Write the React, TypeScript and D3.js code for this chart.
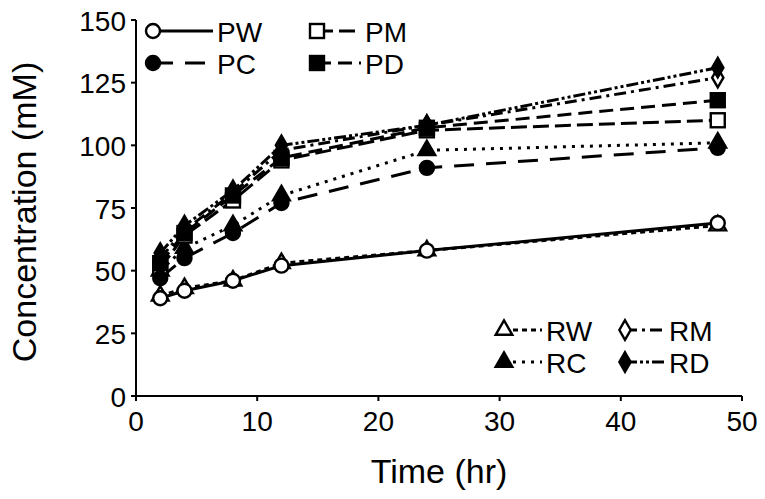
import React from "react";
import * as d3 from "d3";

const times = [2, 4, 8, 12, 24, 48];
const PW = [39, 42, 46, 52, 58, 69];
const PM = [51, 64, 78, 94, 106, 110];
const PC = [47, 55, 65, 77, 91, 99];
const PD = [53, 65, 80, 95, 107, 118];
const RW = [40, 43, 46, 53, 58, 68];
const RM = [55, 66, 81, 98, 108, 127];
const RC = [50, 59, 68, 80, 98, 101];
const RD = [57, 68, 82, 100, 108, 131];
const xTicks = [0, 10, 20, 30, 40, 50];
const yTicks = [0, 25, 50, 75, 100, 125, 150];

type S = { name: string; values: number[]; shape: string; filled: boolean; dash: string };
const series: S[] = [
  { name: "PW", values: PW, shape: "circle", filled: false, dash: "" },
  { name: "PM", values: PM, shape: "square", filled: false, dash: "16,6" },
  { name: "PC", values: PC, shape: "circle", filled: true, dash: "20,12" },
  { name: "PD", values: PD, shape: "square", filled: true, dash: "14,7" },
  { name: "RW", values: RW, shape: "triangle", filled: false, dash: "5,4" },
  { name: "RM", values: RM, shape: "diamond", filled: false, dash: "12,5,3,5" },
  { name: "RC", values: RC, shape: "triangle", filled: true, dash: "3,6" },
  { name: "RD", values: RD, shape: "diamond", filled: true, dash: "12,3,3,3,3,3" },
];

const W = 765, H = 499;
const x = d3.scaleLinear().domain([0, 50]).range([136, 742]);
const y = d3.scaleLinear().domain([0, 150]).range([396, 20]);
const FONT = "'Liberation Sans', Arial, sans-serif";

function Marker({ shape, filled, cx, cy }: { shape: string; filled: boolean; cx: number; cy: number }) {
  const fill = filled ? "#000" : "#fff";
  const st = { fill, stroke: "#000", strokeWidth: 2.4 };
  if (shape === "circle") return <circle cx={cx} cy={cy} r={7} {...st} />;
  if (shape === "square") return <rect x={cx - 7} y={cy - 7} width={14} height={14} {...st} />;
  if (shape === "triangle") {
    const p = d3.symbol().type(d3.symbolTriangle).size(120)();
    return <path d={p || ""} transform={`translate(${cx},${cy})`} {...st} />;
  }
  const p = d3.symbol().type(d3.symbolDiamond).size(110)();
  return <path d={p || ""} transform={`translate(${cx},${cy})`} {...st} />;
}

function LegendItem({ s, lx, ly, len }: { s: S; lx: number; ly: number; len: number }) {
  return (
    <g>
      <line x1={lx} x2={lx + len} y1={ly} y2={ly} stroke="#000" strokeWidth={3} strokeDasharray={s.dash || undefined} />
      <Marker shape={s.shape} filled={s.filled} cx={lx} cy={ly} />
      <text x={lx + len + 4} y={ly + 1} dominantBaseline="central" fontSize={28} fontFamily={FONT}>{s.name}</text>
    </g>
  );
}

export default function App() {
  const line = d3.line<number>().x((_, i) => x(times[i])).y((d) => y(d));
  const order = [4, 6, 5, 7, 1, 3, 2, 0];
  return (
    <svg width={W} height={H} style={{ position: "absolute", left: 0, top: 0, background: "#fff" }}>
      <rect width={W} height={H} fill="#fff" />
      <line x1={x(0)} x2={x(50)} y1={y(0)} y2={y(0)} stroke="#000" strokeWidth={2} />
      <line x1={x(0)} x2={x(0)} y1={y(0)} y2={y(150)} stroke="#000" strokeWidth={2} />
      {xTicks.map((t) => (
        <g key={"x" + t}>
          <line x1={x(t)} x2={x(t)} y1={y(0)} y2={y(0) + 5} stroke="#000" strokeWidth={2} />
          <text x={x(t)} y={421} textAnchor="middle" dominantBaseline="central" fontSize={28} fontFamily={FONT}>{t}</text>
        </g>
      ))}
      {yTicks.map((t) => (
        <g key={"y" + t}>
          <line x1={x(0) - 5} x2={x(0)} y1={y(t)} y2={y(t)} stroke="#000" strokeWidth={2} />
          <text x={126} y={y(t) + 1} textAnchor="end" dominantBaseline="central" fontSize={28} fontFamily={FONT}>{t}</text>
        </g>
      ))}
      <text x={439} y={471} textAnchor="middle" dominantBaseline="central" fontSize={34} fontFamily={FONT}>Time (hr)</text>
      <text transform={`translate(24,212) rotate(-90)`} textAnchor="middle" dominantBaseline="central" fontSize={34} fontFamily={FONT}>Concentration (mM)</text>
      {order.map((i) => {
        const s = series[i];
        return (
          <path key={"l" + s.name} d={line(s.values) || ""} fill="none" stroke="#000" strokeWidth={3} strokeDasharray={s.dash || undefined} />
        );
      })}
      {order.map((i) => {
        const s = series[i];
        return (
          <g key={"m" + s.name}>
            {s.values.map((v, j) => (
              <Marker key={j} shape={s.shape} filled={s.filled} cx={x(times[j])} cy={y(v)} />
            ))}
          </g>
        );
      })}
      <LegendItem s={series[0]} lx={153} ly={31} len={60} />
      <LegendItem s={series[1]} lx={317} ly={31} len={44} />
      <LegendItem s={series[2]} lx={153} ly={63} len={60} />
      <LegendItem s={series[3]} lx={317} ly={63} len={44} />
      <LegendItem s={series[4]} lx={504} ly={330} len={38} />
      <LegendItem s={series[5]} lx={625} ly={330} len={40} />
      <LegendItem s={series[6]} lx={504} ly={362} len={38} />
      <LegendItem s={series[7]} lx={625} ly={362} len={40} />
    </svg>
  );
}
